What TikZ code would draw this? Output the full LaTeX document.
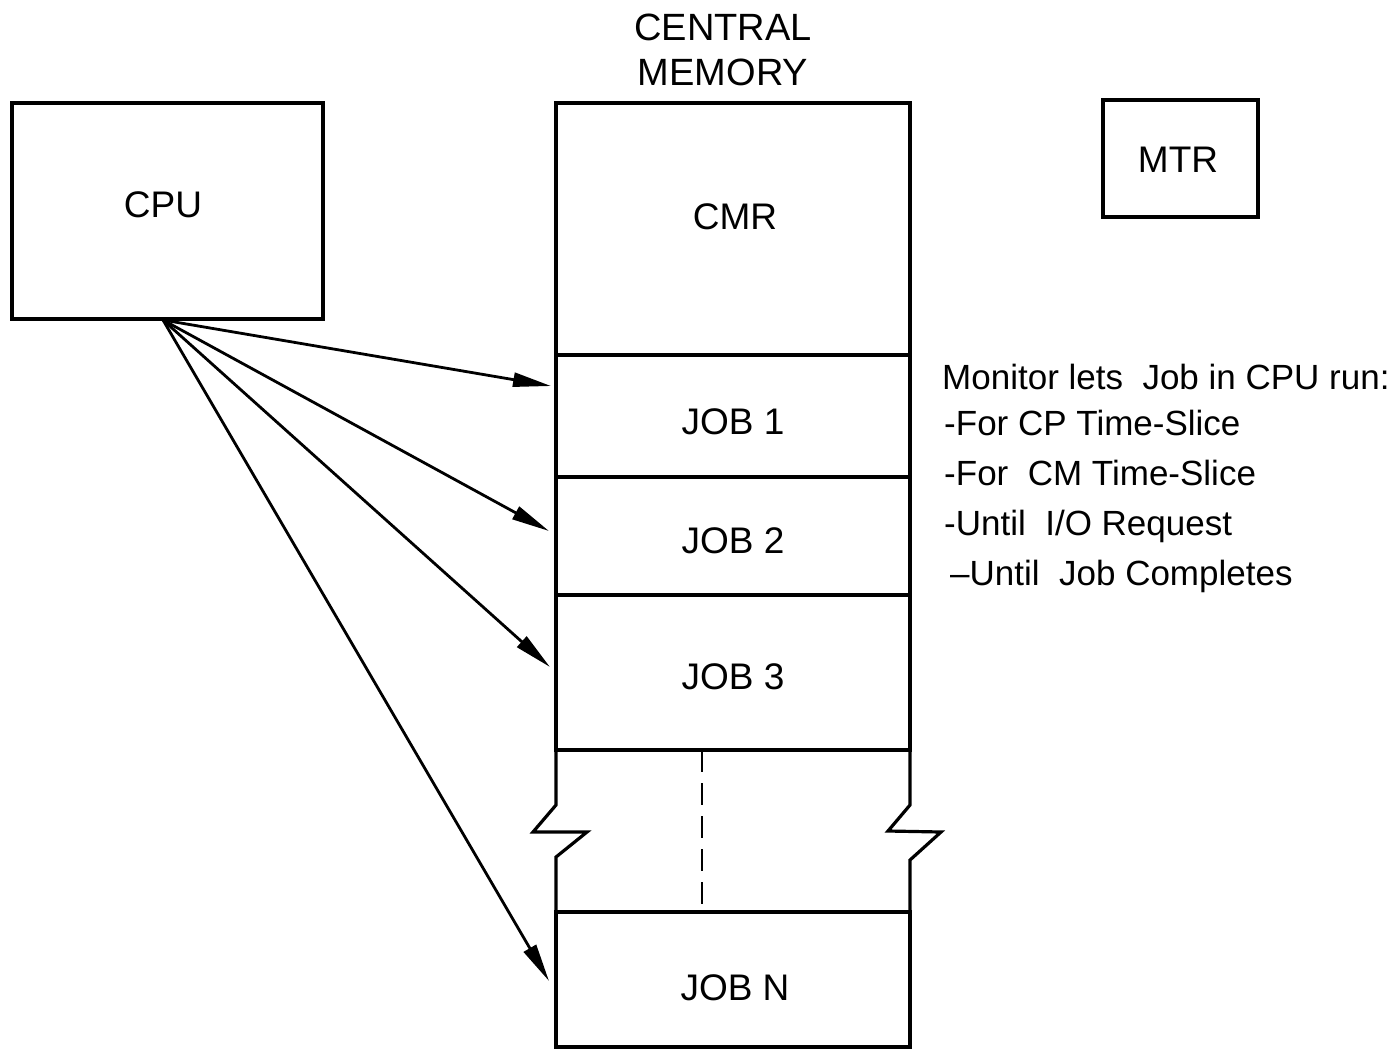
\documentclass[tikz,border=0pt]{standalone}
\usepackage{fontspec}
\setmainfont{Liberation Sans}
\usetikzlibrary{arrows.meta}
\begin{document}
\begin{tikzpicture}[x=1pt,y=-1pt,
  box/.style={draw, line width=3.2pt, inner sep=0pt, outer sep=0pt, anchor=north west},
  lbl/.style={font=\fontsize{37}{42}\selectfont},
  note/.style={font=\fontsize{35}{40}\selectfont, anchor=base west, inner sep=0pt},
  feed/.style={line width=2.8pt, -{Triangle[length=38pt,width=14pt]}}]
\useasboundingbox (0,0) rectangle (1396,1050);

% processor and monitor
\node[box, minimum width=311pt, minimum height=216pt] (cpu) at (12,103) {};
\node[lbl] (cpulbl) at (163,205) {CPU};
\node[box, minimum width=155pt, minimum height=117pt] (mtr) at (1103,100) {};
\node[lbl] (mtrlbl) at (1178,160) {MTR};

% central memory column
\node[lbl, font=\fontsize{38}{45}\selectfont, align=center] (cmtitle) at (723,50) {CENTRAL\\MEMORY};
\node[box, minimum width=354pt, minimum height=252pt] (cmr) at (556,103) {};
\node[lbl] (cmrlbl) at (735,217) {CMR};
\node[box, minimum width=354pt, minimum height=122pt] (job1) at (556,355) {};
\node[box, minimum width=354pt, minimum height=118pt] (job2) at (556,477) {};
\node[box, minimum width=354pt, minimum height=155pt] (job3) at (556,595) {};
\node[box, minimum width=354pt, minimum height=135pt] (jobn) at (556,912) {};
\node[lbl] (job1lbl) at (733,422) {JOB 1};
\node[lbl] (job2lbl) at (733,541) {JOB 2};
\node[lbl] (job3lbl) at (733,677) {JOB 3};
\node[lbl] (jobnlbl) at (735,988) {JOB N};

% broken section between JOB 3 and JOB N
\draw[line width=3.2pt, line join=miter]
  (job3.south west) -- (556,805) -- (533,832) -- (587,832) -- (556,857) -- (jobn.north west);
\draw[line width=3.2pt, line join=miter]
  (job3.south east) -- (910,805) -- (888,831) -- (941,832) -- (910,860) -- (jobn.north east);
\draw[line width=2.8pt, dash pattern=on 22pt off 11pt] (702,750) -- (702,912);

% CPU access paths to the jobs
\coordinate (src) at (163,320);
\coordinate (t1) at (551,386);
\coordinate (t2) at (549,531);
\coordinate (t3) at (550,667);
\coordinate (tn) at (549,981);
\draw[feed] (src) -- (t1);
\draw[feed] (src) -- (t2);
\draw[feed] (src) -- (t3);
\draw[feed] (src) -- (tn);

% monitor policy
\node[note] (n1) at (942,389) {Monitor lets\ \ Job in CPU run:};
\node[note] (n2) at (944,435) {-For CP Time-Slice};
\node[note] (n3) at (944,485) {-For\ \ CM Time-Slice};
\node[note] (n4) at (944,535) {-Until\ \ I/O Request};
\node[note] (n5) at (950,585) {–Until\ \ Job Completes};
\end{tikzpicture}
\end{document}
